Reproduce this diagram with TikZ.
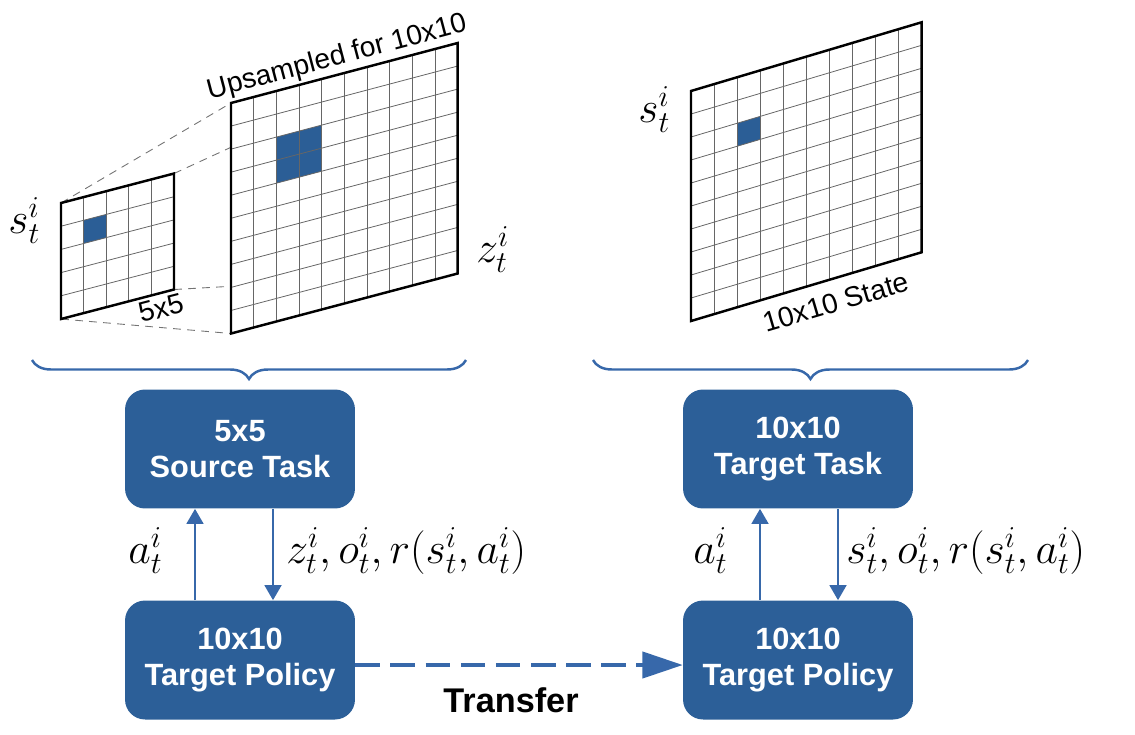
\documentclass[tikz,border=0pt]{standalone}
\usepackage{fontspec}
\setmainfont{Liberation Sans}
\usetikzlibrary{arrows.meta,calc,backgrounds,decorations.pathreplacing}
\definecolor{boxblue}{RGB}{44,95,152}
\definecolor{lineblue}{RGB}{55,104,170}
\definecolor{cellblue}{RGB}{43,94,150}

\tikzset{
  taskbox/.style={fill=boxblue, rounded corners=0.4cm, minimum width=4.6cm, minimum height=2.38cm,
    text=white, align=center, font=\fontsize{17.5}{20}\selectfont\bfseries},
  flow/.style={draw=lineblue, line width=1.3pt, -{Triangle[length=8.5pt,width=9.5pt]}},
  gridline/.style={black!60, line width=0.45pt},
  gridframe/.style={black, line width=1.4pt},
  fanline/.style={black!55, line width=0.5pt, dash pattern=on 4.5pt off 3.5pt},
  mathlbl/.style={font=\fontsize{25}{30}\selectfont, inner sep=0pt},
  gridlbl/.style={font=\fontsize{16}{19}\selectfont, inner sep=0pt},
  bracelbl/.style={draw=lineblue, line width=1.4pt, decorate, decoration={brace, mirror, amplitude=0.38cm}},
}

\begin{document}
\begin{tikzpicture}[x=0.02cm, y=-0.02cm]
  \useasboundingbox (0,0) rectangle (1135,734);

  % 5x5 source state
  \begin{scope}[shift={(61,203)}, yslant=0.261]
    \def\w{22.6} \def\h{23.2}
    \fill[cellblue] (1*\w,1*\h) -- (2*\w,1*\h) -- (2*\w,2*\h) -- (1*\w,2*\h) -- cycle;
    \foreach \i in {1,...,4} { \draw[gridline] (\i*\w,0) -- (\i*\w,5*\h); }
    \foreach \i in {1,...,4} { \draw[gridline] (0,\i*\h) -- (5*\w,\i*\h); }
    \draw[gridframe] (0,0) -- (5*\w,0) -- (5*\w,5*\h) -- (0,5*\h) -- cycle;
    \coordinate (s-tl) at (0,0);      \coordinate (s-tr) at (5*\w,0);
    \coordinate (s-bl) at (0,5*\h);   \coordinate (s-br) at (5*\w,5*\h);
  \end{scope}

  % upsampled 10x10
  \begin{scope}[shift={(231,103)}, yslant=0.2647]
    \def\w{22.67} \def\h{23.05}
    \fill[white] (0,0) -- (10*\w,0) -- (10*\w,10*\h) -- (0,10*\h) -- cycle;
    \fill[cellblue] (2*\w,2*\h) -- (4*\w,2*\h) -- (4*\w,4*\h) -- (2*\w,4*\h) -- cycle;
    \foreach \i in {1,...,9} { \draw[gridline] (\i*\w,0) -- (\i*\w,10*\h); }
    \foreach \i in {1,...,9} { \draw[gridline] (0,\i*\h) -- (10*\w,\i*\h); }
    \draw[gridframe] (0,0) -- (10*\w,0) -- (10*\w,10*\h) -- (0,10*\h) -- cycle;
    \coordinate (u-tl) at (0,0);      \coordinate (u-tr) at (10*\w,0);
    \coordinate (u-bl) at (0,10*\h);  \coordinate (u-br) at (10*\w,10*\h);
  \end{scope}

  \begin{scope}[on background layer]
    \foreach \c in {tl,tr,bl,br} { \draw[fanline] (s-\c) -- (u-\c); }
  \end{scope}

  % 10x10 target state
  \begin{scope}[shift={(691,91)}, yslant=0.298]
    \def\w{23.07} \def\h{23.0}
    \fill[cellblue] (2*\w,2*\h) -- (3*\w,2*\h) -- (3*\w,3*\h) -- (2*\w,3*\h) -- cycle;
    \foreach \i in {1,...,9} { \draw[gridline] (\i*\w,0) -- (\i*\w,10*\h); }
    \foreach \i in {1,...,9} { \draw[gridline] (0,\i*\h) -- (10*\w,\i*\h); }
    \draw[gridframe] (0,0) -- (10*\w,0) -- (10*\w,10*\h) -- (0,10*\h) -- cycle;
  \end{scope}

  % grid labels
  \node[mathlbl, anchor=base west] (sSrc) at (8,233) {$s_t^i$};
  \node[gridlbl, rotate=14.6] (lblSmall) at (161,308) {5x5};
  \node[gridlbl, rotate=14.8] (lblUp) at (337,58) {Upsampled for 10x10};
  \node[mathlbl, anchor=base west] (zSrc) at (476,262) {$z_t^i$};
  \node[mathlbl, anchor=base west] (sTgt) at (638,122) {$s_t^i$};
  \node[gridlbl, rotate=16.4] (lblState) at (836,302) {10x10 State};

  % braces
  \draw[bracelbl] (32,360) -- (466,360);
  \draw[bracelbl] (593,360) -- (1028,360);

  % task and policy boxes
  \node[taskbox] (src)  at (240,449) {5x5\\Source Task};
  \node[taskbox] (polL) at (240,660) {10x10\\Target Policy};
  \node[taskbox] (tgt)  at (798,449) {10x10\\Target Task};
  \node[taskbox] (polR) at (798,660) {10x10\\Target Policy};

  % interaction loops
  \draw[flow] ($(polL.north)+(-45,0)$) -- ($(src.south)+(-45,0)$);
  \draw[flow] ($(src.south)+(33,0)$) -- ($(polL.north)+(33,0)$);
  \draw[flow] ($(polR.north)+(-38,0)$) -- ($(tgt.south)+(-38,0)$);
  \draw[flow] ($(tgt.south)+(40,0)$) -- ($(polR.north)+(40,0)$);
  \node[mathlbl, anchor=base west] (aL) at (128,563) {$a_t^i$};
  \node[mathlbl, anchor=base west] (obsL) at (286,563) {$z_t^i, o_t^i, r(s_t^i, a_t^i)$};
  \node[mathlbl, anchor=base west] (aR) at (693,563) {$a_t^i$};
  \node[mathlbl, anchor=base west] (obsR) at (846,563) {$s_t^i, o_t^i, r(s_t^i, a_t^i)$};

  % transfer
  \draw[lineblue, line width=1.9pt, dash pattern=on 14pt off 6pt, -{Triangle[length=23pt,width=15pt]}]
    ($(polL.east)+(0,5)$) -- ($(polR.west)+(0,5)$);
  \node[font=\fontsize{19.5}{23}\selectfont\bfseries] (xfer) at (511,700) {Transfer};
\end{tikzpicture}
\end{document}
